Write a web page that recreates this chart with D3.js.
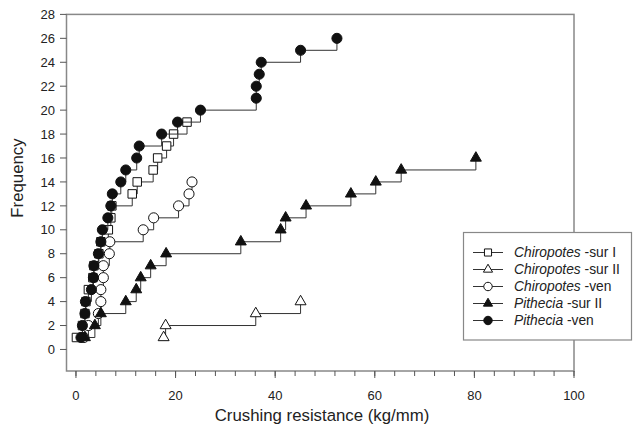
<!DOCTYPE html>
<html>
<head>
<script src="https://cdn.jsdelivr.net/npm/d3@7"></script>
<style>
  body { margin: 0; background: #fff; }
  text { font-family: "Liberation Sans", Arial, sans-serif; fill: #222; }
</style>
</head>
<body>
<div id="chart"></div>
<script>
// cumulative frequency (1..n) against crushing resistance, per group
const chiroSurI = [0.1, 1.3, 1.8, 2.0, 2.5, 3.4, 3.6, 4.6, 5.0, 6.5, 7.0, 7.2, 11.3, 12.3, 15.5, 16.4, 18.2, 19.6, 22.3];
const chiroSurII = [17.6, 18.0, 36.1, 45.1];
const chiroVen = [1.6, 2.5, 4.5, 5.0, 5.0, 5.5, 5.5, 6.7, 6.8, 13.5, 15.6, 20.6, 22.7, 23.3];
const pithSurII = [1.8, 3.8, 5.0, 10.0, 12.1, 13.0, 15.0, 18.1, 33.1, 41.1, 42.1, 46.2, 55.2, 60.2, 65.3, 80.3];
const pithVen = [1.0, 1.3, 1.8, 1.9, 3.1, 3.5, 3.6, 4.5, 5.0, 5.3, 6.4, 7.0, 7.3, 9.0, 10.0, 12.2, 12.7, 17.2, 20.4, 25.0, 36.2, 36.2, 36.8, 37.2, 45.1, 52.4];

const genus = ["Chiropotes", "Chiropotes", "Chiropotes", "Pithecia", "Pithecia"];
const suffix = [" -sur I", " -sur II", " -ven", " -sur II", " -ven"];
const xTicks = [0, 20, 40, 60, 80, 100];
const yTicks = d3.range(0, 29, 2);

const series = [
  { vals: chiroSurI, shape: d3.symbolSquare, size: 72, fill: "#fff" },
  { vals: chiroSurII, shape: d3.symbolTriangle, size: 52, fill: "#fff" },
  { vals: chiroVen, shape: d3.symbolCircle, size: 80, fill: "#fff" },
  { vals: pithSurII, shape: d3.symbolTriangle, size: 52, fill: "#111" },
  { vals: pithVen, shape: d3.symbolCircle, size: 80, fill: "#111" }
];

const width = 633, height = 433;
const svg = d3.select("#chart").append("svg")
  .attr("width", width).attr("height", height);

const x = d3.scaleLinear().domain([-1.9, 100]).range([66.5, 574]);
const y = d3.scaleLinear().domain([-1.8, 28]).range([371, 14.4]);

// frame
svg.append("rect")
  .attr("x", x.range()[0]).attr("y", y.range()[1])
  .attr("width", x.range()[1] - x.range()[0])
  .attr("height", y.range()[0] - y.range()[1])
  .attr("fill", "none").attr("stroke", "#888").attr("stroke-width", 1.5);

// x axis ticks
const xg = svg.append("g");
xg.selectAll("line.minor")
  .data(d3.range(0, 101, 4))
  .join("line")
  .attr("x1", d => x(d)).attr("x2", d => x(d))
  .attr("y1", 371).attr("y2", 376)
  .attr("stroke", "#555").attr("stroke-width", 1);
xg.selectAll("line.major")
  .data(xTicks)
  .join("line")
  .attr("x1", d => x(d)).attr("x2", d => x(d))
  .attr("y1", 371).attr("y2", 378)
  .attr("stroke", "#555").attr("stroke-width", 1);
xg.selectAll("text")
  .data(xTicks)
  .join("text")
  .attr("x", d => x(d)).attr("y", 400)
  .attr("text-anchor", "middle")
  .style("font-size", "13px")
  .text(d => d);

// y axis ticks
const yg = svg.append("g");
yg.selectAll("line")
  .data(yTicks)
  .join("line")
  .attr("x1", 60).attr("x2", 66.5)
  .attr("y1", d => y(d)).attr("y2", d => y(d))
  .attr("stroke", "#555").attr("stroke-width", 1);
yg.selectAll("text")
  .data(yTicks)
  .join("text")
  .attr("x", 55).attr("y", d => y(d))
  .attr("dy", "0.36em")
  .attr("text-anchor", "end")
  .style("font-size", "13px")
  .text(d => d);

// axis titles
svg.append("text")
  .attr("x", 322).attr("y", 421)
  .attr("text-anchor", "middle")
  .style("font-size", "16.8px")
  .text("Crushing resistance (kg/mm)");
svg.append("text")
  .attr("transform", "translate(23,178) rotate(-90)")
  .attr("text-anchor", "middle")
  .style("font-size", "16.8px")
  .text("Frequency");

// step lines + markers
const line = d3.line()
  .x(d => x(d[0])).y(d => y(d[1]))
  .curve(d3.curveStepAfter);

series.forEach(s => {
  const pts = s.vals.map((v, i) => [v, i + 1]);
  svg.append("path")
    .attr("d", line(pts))
    .attr("fill", "none").attr("stroke", "#333").attr("stroke-width", 1);
  svg.append("g").selectAll("path")
    .data(pts)
    .join("path")
    .attr("transform", d => `translate(${x(d[0])},${y(d[1])})`)
    .attr("d", d3.symbol(s.shape, s.size))
    .attr("fill", s.fill).attr("stroke", "#111").attr("stroke-width", 1);
});

// legend
const lg = svg.append("g");
lg.append("rect")
  .attr("x", 463.5).attr("y", 232.5).attr("width", 168).attr("height", 107.5)
  .attr("fill", "#fff").attr("stroke", "#888").attr("stroke-width", 1.2);
series.forEach((s, i) => {
  const ly = 252.5 + i * 17;
  lg.append("line")
    .attr("x1", 473).attr("x2", 503).attr("y1", ly).attr("y2", ly)
    .attr("stroke", "#333").attr("stroke-width", 1);
  lg.append("path")
    .attr("transform", `translate(488,${ly})`)
    .attr("d", d3.symbol(s.shape, s.size * 0.7))
    .attr("fill", s.fill).attr("stroke", "#111").attr("stroke-width", 1);
  const t = lg.append("text")
    .attr("x", 514).attr("y", ly).attr("dy", "0.36em")
    .style("font-size", "13.8px");
  t.append("tspan").style("font-style", "italic").text(genus[i]);
  t.append("tspan").text(suffix[i]);
});
</script>
</body>
</html>
